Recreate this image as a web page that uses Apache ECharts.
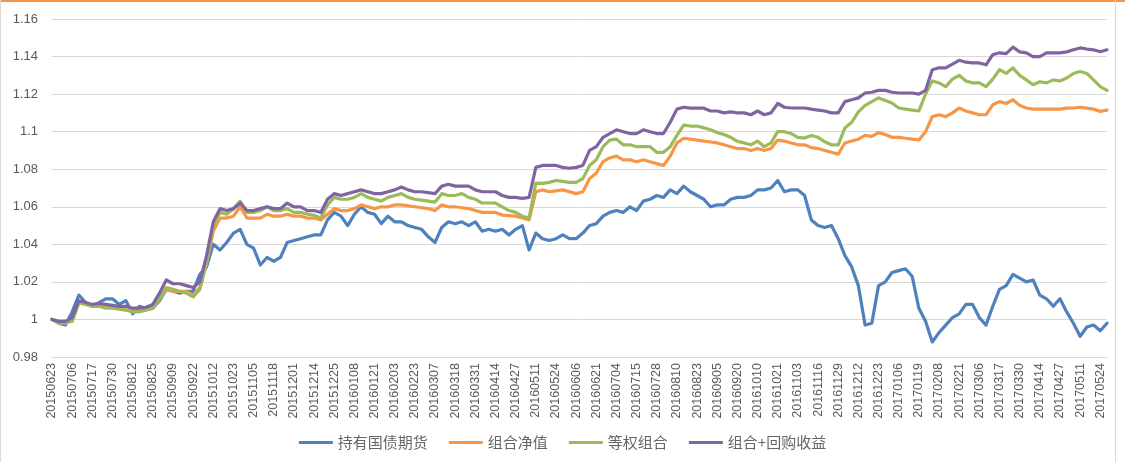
<!DOCTYPE html>
<html>
<head>
<meta charset="utf-8">
<script src="https://cdn.jsdelivr.net/npm/echarts@6/dist/echarts.min.js"></script>
<style>
  html, body { margin: 0; padding: 0; background: #fff; }
  #chart { width: 1125px; height: 462px; }
</style>
</head>
<body>
<div id="chart"></div>
<script>
// Tick labels (one every 9 trading days); data sampled every 3 trading days
const tickLabels = [
  '20150623','20150706','20150717','20150730','20150812','20150825','20150909','20150922',
  '20151012','20151023','20151105','20151118','20151201','20151214','20151225','20160108',
  '20160121','20160203','20160223','20160307','20160318','20160331','20160414','20160427',
  '20160511','20160524','20160606','20160621','20160704','20160715','20160728','20160810',
  '20160823','20160905','20160920','20161010','20161021','20161103','20161116','20161129',
  '20161212','20161223','20170106','20170119','20170208','20170221','20170306','20170317',
  '20170330','20170414','20170427','20170511','20170524'
];
const seriesNames = ['持有国债期货', '组合净值', '等权组合', '组合+回购收益'];

const bondFutures = [
  1.000, 0.998, 0.997, 1.004, 1.013, 1.009, 1.007, 1.009, 1.011, 1.011,
  1.008, 1.010, 1.003, 1.007, 1.006, 1.006, 1.010, 1.016, 1.015, 1.014,
  1.015, 1.015, 1.024, 1.028, 1.040, 1.037, 1.041, 1.046, 1.048, 1.040,
  1.038, 1.029, 1.033, 1.031, 1.033, 1.041, 1.042, 1.043, 1.044, 1.045,
  1.045, 1.053, 1.057, 1.055, 1.050, 1.056, 1.060, 1.057, 1.056, 1.051,
  1.055, 1.052, 1.052, 1.050, 1.049, 1.048, 1.044, 1.041, 1.049, 1.052,
  1.051, 1.052, 1.050, 1.052, 1.047, 1.048, 1.047, 1.048, 1.045, 1.048,
  1.050, 1.037, 1.046, 1.043, 1.042, 1.043, 1.045, 1.043, 1.043, 1.046,
  1.050, 1.051, 1.055, 1.057, 1.058, 1.057, 1.060, 1.058, 1.063, 1.064,
  1.066, 1.065, 1.069, 1.067, 1.071, 1.068, 1.066, 1.064, 1.060, 1.061,
  1.061, 1.064, 1.065, 1.065, 1.066, 1.069, 1.069, 1.070, 1.074, 1.068,
  1.069, 1.069, 1.066, 1.053, 1.050, 1.049, 1.050, 1.043, 1.034, 1.028,
  1.018, 0.997, 0.998, 1.018, 1.020, 1.025, 1.026, 1.027, 1.023, 1.006,
  0.999, 0.988, 0.993, 0.997, 1.001, 1.003, 1.008, 1.008, 1.001, 0.997,
  1.007, 1.016, 1.018, 1.024, 1.022, 1.020, 1.021, 1.013, 1.011, 1.007,
  1.011, 1.004, 0.998, 0.991, 0.996, 0.997, 0.994, 0.998
];

const portfolioNav = [
  1.000, 0.999, 0.999, 0.999, 1.009, 1.008, 1.0075, 1.007, 1.007, 1.0065,
  1.006, 1.005, 1.005, 1.0045, 1.005, 1.006, 1.011, 1.016, 1.015, 1.015,
  1.015, 1.013, 1.017, 1.030, 1.047, 1.054, 1.054, 1.055, 1.060, 1.054,
  1.054, 1.054, 1.056, 1.055, 1.055, 1.056, 1.055, 1.055, 1.054, 1.054,
  1.053, 1.056, 1.059, 1.058, 1.058, 1.059, 1.061, 1.060, 1.059, 1.060,
  1.060, 1.061, 1.061, 1.0605, 1.060, 1.0595, 1.059, 1.058, 1.061, 1.060,
  1.060, 1.0595, 1.059, 1.058, 1.057, 1.057, 1.057, 1.0556, 1.0553, 1.055,
  1.054, 1.053, 1.068, 1.069, 1.068, 1.0685, 1.069, 1.068, 1.067, 1.068,
  1.075, 1.078, 1.084, 1.086, 1.087, 1.085, 1.085, 1.084, 1.085, 1.084,
  1.083, 1.082, 1.087, 1.094, 1.0965, 1.096, 1.0955, 1.095, 1.0945, 1.094,
  1.093, 1.092, 1.091, 1.091, 1.090, 1.091, 1.090, 1.091, 1.0955, 1.095,
  1.094, 1.093, 1.093, 1.0915, 1.091, 1.090, 1.089, 1.088, 1.094, 1.095,
  1.096, 1.098, 1.0975, 1.0995, 1.0985, 1.097, 1.097, 1.0965, 1.096, 1.0956,
  1.100, 1.108, 1.109, 1.108, 1.110, 1.1126, 1.111, 1.110, 1.109, 1.109,
  1.1143, 1.116, 1.115, 1.117, 1.114, 1.1126, 1.112, 1.112, 1.112, 1.112,
  1.112, 1.1125, 1.1126, 1.113, 1.1125, 1.112, 1.1108, 1.1115
];

const equalWeight = [
  1.000, 0.998, 0.998, 0.999, 1.009, 1.008, 1.007, 1.007, 1.006, 1.006,
  1.0055, 1.005, 1.004, 1.004, 1.005, 1.006, 1.011, 1.017, 1.016, 1.015,
  1.014, 1.012, 1.016, 1.030, 1.050, 1.057, 1.056, 1.059, 1.063, 1.057,
  1.057, 1.058, 1.060, 1.058, 1.058, 1.059, 1.057, 1.057, 1.056, 1.0555,
  1.054, 1.061, 1.065, 1.064, 1.064, 1.065, 1.067, 1.065, 1.064, 1.063,
  1.065, 1.066, 1.067, 1.065, 1.064, 1.0635, 1.063, 1.0625, 1.067, 1.066,
  1.066, 1.067, 1.065, 1.064, 1.062, 1.062, 1.062, 1.060, 1.058, 1.057,
  1.055, 1.054, 1.0726, 1.0725, 1.073, 1.074, 1.0735, 1.073, 1.073, 1.075,
  1.082, 1.085, 1.092, 1.0955, 1.096, 1.093, 1.093, 1.092, 1.092, 1.092,
  1.089, 1.089, 1.092, 1.098, 1.1035, 1.103, 1.103, 1.102, 1.101, 1.0995,
  1.0985, 1.097, 1.0948, 1.094, 1.093, 1.095, 1.092, 1.094, 1.100, 1.100,
  1.099, 1.097, 1.0966, 1.098, 1.097, 1.0946, 1.093, 1.093, 1.102, 1.105,
  1.1105, 1.114, 1.116, 1.118, 1.1166, 1.1153, 1.1126, 1.112, 1.1115, 1.111,
  1.120, 1.127, 1.126, 1.124, 1.128, 1.130, 1.127, 1.126, 1.126, 1.124,
  1.128, 1.133, 1.131, 1.134, 1.130, 1.1276, 1.125, 1.1266, 1.126, 1.1276,
  1.127, 1.1286, 1.131, 1.132, 1.131, 1.1276, 1.124, 1.122
];

const withRepo = [
  1.000, 0.999, 0.999, 1.001, 1.010, 1.009, 1.008, 1.0085, 1.008, 1.0075,
  1.007, 1.007, 1.006, 1.006, 1.0065, 1.008, 1.014, 1.021, 1.019, 1.019,
  1.018, 1.017, 1.020, 1.034, 1.052, 1.059, 1.058, 1.059, 1.062, 1.058,
  1.058, 1.059, 1.060, 1.059, 1.059, 1.062, 1.060, 1.060, 1.058, 1.058,
  1.057, 1.064, 1.067, 1.066, 1.067, 1.068, 1.069, 1.068, 1.067, 1.067,
  1.068, 1.069, 1.0705, 1.069, 1.068, 1.068, 1.0675, 1.067, 1.071, 1.072,
  1.071, 1.071, 1.071, 1.069, 1.068, 1.068, 1.068, 1.066, 1.065, 1.065,
  1.0645, 1.065, 1.081, 1.082, 1.082, 1.082, 1.081, 1.0805, 1.081, 1.082,
  1.090, 1.092, 1.097, 1.099, 1.101, 1.100, 1.099, 1.099, 1.101, 1.100,
  1.099, 1.099, 1.105, 1.112, 1.113, 1.1125, 1.1125, 1.1125, 1.111, 1.111,
  1.110, 1.1105, 1.110, 1.110, 1.109, 1.111, 1.109, 1.110, 1.115, 1.113,
  1.1126, 1.1126, 1.1126, 1.112, 1.1115, 1.111, 1.110, 1.110, 1.116, 1.117,
  1.118, 1.1206, 1.121, 1.122, 1.122, 1.121, 1.1206, 1.1206, 1.1206, 1.120,
  1.122, 1.133, 1.134, 1.134, 1.136, 1.138, 1.137, 1.1366, 1.1366, 1.1356,
  1.141, 1.142, 1.1416, 1.145, 1.1425, 1.142, 1.140, 1.140, 1.142, 1.142,
  1.142, 1.1425, 1.1436, 1.1446, 1.144, 1.1436, 1.1426, 1.1436
];

const colors = ['#4F81BD', '#F79646', '#9BBB59', '#8064A2'];

// Build category axis: 3 samples per labelled 9-day step
const n = bondFutures.length;
const categories = [];
for (let i = 0; i < n; i++) {
  const j = Math.floor(i / 3), r = i % 3;
  const base = tickLabels[Math.min(j, tickLabels.length - 1)];
  categories.push(r === 0 && j < tickLabels.length ? base : base + '+' + (r + (j >= tickLabels.length ? 3 : 0)));
}

const allSeries = [bondFutures, portfolioNav, equalWeight, withRepo];
const textFont = "'Liberation Sans', Arial, 'Noto Sans CJK SC', sans-serif";

const chart = echarts.init(document.getElementById('chart'), null, { renderer: 'canvas' });
chart.setOption({
  backgroundColor: '#ffffff',
  animation: false,
  color: colors,
  grid: { left: 52, right: 18, top: 19, bottom: 105, containLabel: false },
  legend: {
    bottom: 7,
    left: 'center',
    icon: 'rect',
    itemWidth: 34,
    itemHeight: 3,
    itemGap: 21,
    textStyle: { color: '#666666', fontSize: 15, fontFamily: "'Noto Sans CJK SC', sans-serif" },
    data: seriesNames
  },
  xAxis: {
    type: 'category',
    boundaryGap: false,
    data: categories,
    axisLine: { show: true, lineStyle: { color: '#D9D9D9', width: 1 } },
    axisTick: { show: false },
    axisLabel: {
      interval: 2,
      rotate: 90,
      margin: 6,
      color: '#595959',
      fontSize: 12.5,
      fontFamily: textFont
    },
    splitLine: { show: false }
  },
  yAxis: {
    type: 'value',
    min: 0.98,
    max: 1.16,
    interval: 0.02,
    axisLine: { show: false },
    axisTick: { show: false },
    axisLabel: {
      margin: 14,
      color: '#595959',
      fontSize: 13,
      fontFamily: textFont,
      formatter: v => String(parseFloat(v.toFixed(2)))
    },
    splitLine: { lineStyle: { color: '#D9D9D9', width: 1 } }
  },
  graphic: [
    { type: 'rect', left: 0, top: 0, shape: { width: 1125, height: 2 }, style: { fill: '#F79646' }, silent: true },
    { type: 'rect', left: 0, top: 0, shape: { width: 1, height: 462 }, style: { fill: '#D9D9D9' }, silent: true },
    { type: 'rect', left: 1115, top: 0, shape: { width: 1, height: 462 }, style: { fill: '#D9D9D9' }, silent: true }
  ],
  series: allSeries.map((d, i) => ({
    name: seriesNames[i],
    type: 'line',
    data: d,
    symbol: 'none',
    showSymbol: false,
    smooth: false,
    lineStyle: { width: 3.2, color: colors[i], join: 'round', cap: 'round' },
    itemStyle: { color: colors[i] },
    emphasis: { disabled: true }
  }))
});
</script>
</body>
</html>
